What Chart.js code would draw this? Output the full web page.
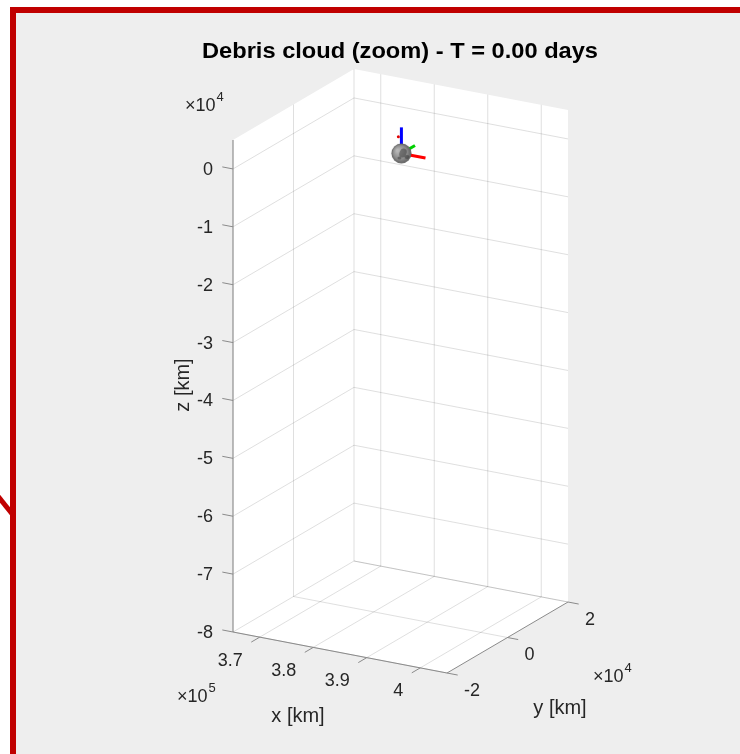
<!DOCTYPE html>
<html>
<head>
<meta charset="utf-8">
<title>Debris cloud (zoom)</title>
<script src="https://cdn.jsdelivr.net/npm/chart.js@4.4.1/dist/chart.umd.min.js"></script>
<style>
    html, body { margin: 0; padding: 0; background: #fff; }
    #page { position: relative; width: 740px; height: 754px; overflow: hidden; background: #fff; }
    #frame {
        position: absolute; left: 10px; top: 7px; width: 800px; height: 800px;
        background: #eeeeee; border-top: 6px solid #c00000; border-left: 6px solid #c00000;
    }
    #pointer { position: absolute; left: 0; top: 0; }
    #plot { position: absolute; left: 0; top: 0; }
</style>
</head>
<body>
<div id="page">
    <div id="frame"></div>
    <svg id="pointer" width="20" height="754"><line x1="-3" y1="495" x2="13" y2="515" stroke="#c00000" stroke-width="5"/></svg>
    <canvas id="plot" width="740" height="754"></canvas>
</div>
<script>
// Axis limits and ticks (km)
const xLim = [3.65e5, 4.05e5];
const yLim = [-2e4, 2e4];
const zLim = [-8e4, 0.5e4];

const xTicks = [3.7e5, 3.8e5, 3.9e5, 4.0e5];
const yTicks = [-2e4, 0, 2e4];
const zTicks = [0, -1e4, -2e4, -3e4, -4e4, -5e4, -6e4, -7e4, -8e4];

const xTickLabels = ['3.7', '3.8', '3.9', '4'];
const yTickLabels = ['-2', '0', '2'];
const zTickLabels = ['0', '-1', '-2', '-3', '-4', '-5', '-6', '-7', '-8'];
const xExponent = '5';
const yExponent = '4';
const zExponent = '4';

// Moon and its body frame (km)
const moonCenter = [3.850e5, 300, 0];
const moonRadius = 1737;
const frameAxisLength = 4500;

// Debris fragments (km)
const debrisX = [3.846e5];
const debrisY = [0];
const debrisZ = [2900];

const titleText = 'Debris cloud (zoom) - T = 0.00 days';

// View: where the plot box lands on the page (orthographic projection)
const view = {
    origin: [233, 632],   // (xmin, ymin, zmin) corner
    ex: [214, 41],        // full x range
    ey: [121, -71],       // full y range
    ez: [0, -492]         // full z range
};

function proj(x, y, z) {
    const tx = (x - xLim[0]) / (xLim[1] - xLim[0]);
    const ty = (y - yLim[0]) / (yLim[1] - yLim[0]);
    const tz = (z - zLim[0]) / (zLim[1] - zLim[0]);
    return {
        x: view.origin[0] + tx * view.ex[0] + ty * view.ey[0] + tz * view.ez[0],
        y: view.origin[1] + tx * view.ex[1] + ty * view.ey[1] + tz * view.ez[1]
    };
}

const gridColor = 'rgba(38,38,38,0.15)';
const axisColor = '#8a8a8a';
const textColor = '#262626';

function segment(a, b, color, width, order) {
    return {
        data: [proj(a[0], a[1], a[2]), proj(b[0], b[1], b[2])],
        borderColor: color,
        borderWidth: width,
        pointRadius: 0,
        fill: false,
        order: order
    };
}

const datasets = [];

// white back planes (floor + two walls)
const boxCorners = [
    [xLim[0], yLim[0], zLim[0]], [xLim[1], yLim[0], zLim[0]], [xLim[1], yLim[1], zLim[0]],
    [xLim[1], yLim[1], zLim[1]], [xLim[0], yLim[1], zLim[1]], [xLim[0], yLim[0], zLim[1]],
    [xLim[0], yLim[0], zLim[0]]
];
datasets.push({
    data: boxCorners.map(c => proj(c[0], c[1], c[2])),
    borderWidth: 0,
    borderColor: 'rgba(0,0,0,0)',
    backgroundColor: '#ffffff',
    pointRadius: 0,
    fill: 'shape',
    order: 20
});

// grid: floor
xTicks.forEach(x => datasets.push(segment([x, yLim[0], zLim[0]], [x, yLim[1], zLim[0]], gridColor, 1, 15)));
yTicks.forEach(y => datasets.push(segment([xLim[0], y, zLim[0]], [xLim[1], y, zLim[0]], gridColor, 1, 15)));
// grid: x = xmin wall
yTicks.forEach(y => datasets.push(segment([xLim[0], y, zLim[0]], [xLim[0], y, zLim[1]], gridColor, 1, 15)));
zTicks.forEach(z => datasets.push(segment([xLim[0], yLim[0], z], [xLim[0], yLim[1], z], gridColor, 1, 15)));
// grid: y = ymax wall
xTicks.forEach(x => datasets.push(segment([x, yLim[1], zLim[0]], [x, yLim[1], zLim[1]], gridColor, 1, 15)));
zTicks.forEach(z => datasets.push(segment([xLim[0], yLim[1], z], [xLim[1], yLim[1], z], gridColor, 1, 15)));

// axis lines
datasets.push(segment([xLim[0], yLim[0], zLim[0]], [xLim[1], yLim[0], zLim[0]], axisColor, 1, 12));
datasets.push(segment([xLim[1], yLim[0], zLim[0]], [xLim[1], yLim[1], zLim[0]], axisColor, 1, 12));
datasets.push(segment([xLim[0], yLim[0], zLim[0]], [xLim[0], yLim[0], zLim[1]], axisColor, 1, 12));

// tick marks
const xTickLen = 0.07 * (yLim[1] - yLim[0]);
const yTickLen = 0.05 * (xLim[1] - xLim[0]);
const zTickLen = 0.05 * (xLim[1] - xLim[0]);
xTicks.forEach(x => datasets.push(segment([x, yLim[0], zLim[0]], [x, yLim[0] - xTickLen, zLim[0]], axisColor, 1, 12)));
yTicks.forEach(y => datasets.push(segment([xLim[1], y, zLim[0]], [xLim[1] + yTickLen, y, zLim[0]], axisColor, 1, 12)));
zTicks.forEach(z => datasets.push(segment([xLim[0], yLim[0], z], [xLim[0] - zTickLen, yLim[0], z], axisColor, 1, 12)));

// moon body frame arrows (x red, y green, z blue)
const [mx, my, mz] = moonCenter;
datasets.push(segment([mx, my, mz], [mx + frameAxisLength, my, mz], '#ff0000', 3, 8));
datasets.push(segment([mx, my, mz], [mx, my + frameAxisLength, mz], '#00d000', 3, 8));
datasets.push(segment([mx, my, mz], [mx, my, mz + frameAxisLength], '#0000ff', 3, 8));

// moon sprite, radius taken from the z scale
const moonPx = moonRadius / (zLim[1] - zLim[0]) * Math.abs(view.ez[1]);
function makeMoonSprite(r) {
    const s = Math.ceil(r * 2 + 2);
    const c = document.createElement('canvas');
    c.width = s; c.height = s;
    const g = c.getContext('2d');
    const cx = s / 2, cy = s / 2;
    const grad = g.createRadialGradient(cx - r * 0.4, cy - r * 0.3, r * 0.1, cx, cy, r);
    grad.addColorStop(0, '#b8b8b8');
    grad.addColorStop(0.65, '#8c8c8c');
    grad.addColorStop(1, '#5e5e5e');
    g.fillStyle = grad;
    g.beginPath(); g.arc(cx, cy, r, 0, Math.PI * 2); g.fill();
    g.save();
    g.beginPath(); g.arc(cx, cy, r, 0, Math.PI * 2); g.clip();
    g.fillStyle = 'rgba(45,45,45,0.45)';
    g.beginPath(); g.ellipse(cx + r * 0.15, cy - r * 0.05, r * 0.35, r * 0.45, 0.4, 0, Math.PI * 2); g.fill();
    g.beginPath(); g.ellipse(cx + r * 0.55, cy + r * 0.35, r * 0.25, r * 0.2, 0, 0, Math.PI * 2); g.fill();
    g.beginPath(); g.ellipse(cx - r * 0.2, cy + r * 0.45, r * 0.2, r * 0.15, 0, 0, Math.PI * 2); g.fill();
    g.restore();
    return c;
}
const moonSprite = makeMoonSprite(moonPx);

datasets.push({
    data: [proj(mx, my, mz)],
    showLine: false,
    pointStyle: moonSprite,
    pointRadius: moonPx,
    order: 5
});

datasets.push({
    data: debrisX.map((x, i) => proj(x, debrisY[i], debrisZ[i])),
    showLine: false,
    pointRadius: 1.5,
    pointBackgroundColor: '#e00000',
    pointBorderWidth: 0,
    order: 4
});

// text: title, tick labels, exponents, axis labels
const labelsPlugin = {
    id: 'labels3d',
    afterDraw(chart) {
        const ctx = chart.ctx;
        const sx = chart.scales.x, sy = chart.scales.y;
        const px = p => ({ x: sx.getPixelForValue(p.x), y: sy.getPixelForValue(p.y) });

        ctx.save();
        ctx.textBaseline = 'middle';

        // title
        ctx.font = 'bold 22px "Liberation Sans", Arial, sans-serif';
        ctx.fillStyle = '#000';
        ctx.textAlign = 'center';
        const tw = ctx.measureText(titleText).width;
        const tp = px({ x: 400, y: 52 });
        ctx.save();
        ctx.translate(tp.x, tp.y);
        ctx.scale(396 / tw, 1);
        ctx.fillText(titleText, 0, 0);
        ctx.restore();

        ctx.fillStyle = textColor;
        ctx.font = '18px "Liberation Sans", Arial, sans-serif';

        // z ticks
        ctx.textAlign = 'right';
        zTicks.forEach((z, i) => {
            const p = px(proj(xLim[0], yLim[0], z));
            ctx.fillText(zTickLabels[i], p.x - 20, p.y + 1);
        });
        // x ticks
        xTicks.forEach((x, i) => {
            const p = px(proj(x, yLim[0], zLim[0]));
            ctx.fillText(xTickLabels[i], p.x - 17, p.y + 23.5);
        });
        // y ticks
        ctx.textAlign = 'left';
        yTicks.forEach((y, i) => {
            const p = px(proj(xLim[1], y, zLim[0]));
            ctx.fillText(yTickLabels[i], p.x + 17, p.y + 18);
        });

        // exponent labels
        function exponent(anchor, dx, dy, e) {
            const p = px(anchor);
            ctx.font = '18px "Liberation Sans", Arial, sans-serif';
            ctx.textAlign = 'left';
            ctx.fillText('\u00d710', p.x + dx, p.y + dy);
            const w = ctx.measureText('\u00d710').width;
            ctx.font = '13px "Liberation Sans", Arial, sans-serif';
            ctx.fillText(e, p.x + dx + w + 1, p.y + dy - 9);
        }
        exponent(proj(xLim[0], yLim[0], zLim[1]), -48, -34, zExponent);
        exponent(proj(xLim[0], yLim[0], zLim[0]), -56, 65, xExponent);
        exponent(proj(xLim[1], yLim[1], zLim[0]), 25, 75, yExponent);

        // axis labels
        ctx.font = '20px "Liberation Sans", Arial, sans-serif';
        ctx.textAlign = 'center';
        const xm = px(proj((xLim[0] + xLim[1]) / 2, yLim[0], zLim[0]));
        ctx.fillText('x [km]', xm.x - 42, xm.y + 63.5);
        const ym = px(proj(xLim[1], (yLim[0] + yLim[1]) / 2, zLim[0]));
        ctx.fillText('y [km]', ym.x + 52.5, ym.y + 70.5);
        const zm = px(proj(xLim[0], yLim[0], (zLim[0] + zLim[1]) / 2));
        ctx.save();
        ctx.translate(zm.x - 50, zm.y - 1);
        ctx.rotate(-Math.PI / 2);
        ctx.fillText('z [km]', 0, 0);
        ctx.restore();

        ctx.restore();
    }
};

new Chart(document.getElementById('plot'), {
    type: 'line',
    data: { datasets: datasets },
    options: {
        responsive: false,
        devicePixelRatio: 1,
        animation: false,
        events: [],
        layout: { padding: 0, autoPadding: false },
        elements: { line: { tension: 0, borderCapStyle: 'butt' } },
        plugins: {
            legend: { display: false },
            tooltip: { enabled: false },
            title: { display: false }
        },
        scales: {
            x: { type: 'linear', min: 0, max: 740, display: false },
            y: { type: 'linear', min: 0, max: 754, reverse: true, display: false }
        }
    },
    plugins: [labelsPlugin]
});
</script>
</body>
</html>
